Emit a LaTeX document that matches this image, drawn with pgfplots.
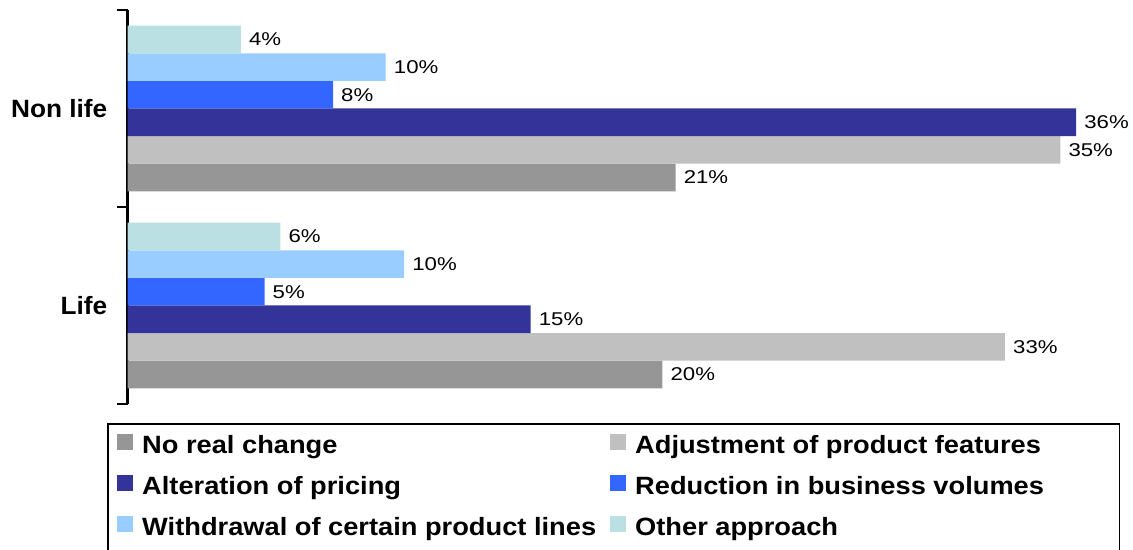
\documentclass[border=0pt]{standalone}
\usepackage{fontspec}
\setmainfont{Liberation Sans}
\newfontfamily\labfont[FakeStretch=1.2]{Liberation Sans}
\newfontfamily\legfont[FakeStretch=1.09]{Liberation Sans}
\newfontfamily\catfont[FakeStretch=1.05]{Liberation Sans}
\usepackage{pgfplots}
\pgfplotsset{compat=1.18}
\definecolor{cNone}{HTML}{969696}
\definecolor{cAdj}{HTML}{C0C0C0}
\definecolor{cAlt}{HTML}{333399}
\definecolor{cRed}{HTML}{3366FF}
\definecolor{cWd}{HTML}{99CCFF}
\definecolor{cOth}{HTML}{BBE0E3}
\begin{document}
\begin{tikzpicture}
\useasboundingbox (0,0) rectangle (1133bp,550bp);
\begin{axis}[
  at={(127.5bp,146bp)}, anchor=south west,
  scale only axis, width=1000bp, height=394bp,
  xmin=0, xmax=37.95, ymin=-0.5, ymax=1.5,
  xbar=0pt, bar width=27.6bp,
  axis x line=none, axis y line*=left,
  axis line style={line width=2.5bp, -},
  y axis line style={-},
  ytick={-0.5,0.5,1.5}, yticklabels={,,},
  tick align=outside, major tick length=10bp,
  ytick style={line width=2bp, black},
  extra y ticks={0,1}, extra y tick labels={Life,Non life},
  extra y tick style={major tick length=0pt,
    yticklabel style={font=\catfont\bfseries\fontsize{25bp}{25bp}\selectfont, inner sep=0pt, xshift=-20bp}},
  point meta=explicit symbolic,
  nodes near coords={\pgfplotspointmeta\%},
  nodes near coords style={font=\labfont\fontsize{18.5bp}{18.5bp}\selectfont, anchor=west, inner sep=0pt, xshift=8bp},
  clip=false,
  legend columns=2, legend cell align=left,
  legend style={name=leg, at={(-0.0195,-0.0508)}, anchor=north west, draw=none, fill=none,
    inner xsep=9bp, inner ysep=9bp, column sep=9bp, row sep=15bp,
    font=\legfont\bfseries\fontsize{25bp}{25bp}\selectfont,
    nodes={inner sep=0pt, text height=20bp, text depth=6bp},
    /tikz/every even column/.append style={column sep=13bp}},
  legend image code/.code={\fill[#1] (0bp,-4bp) rectangle (16bp,12bp);},
]
\addplot[fill=cNone, draw=none] coordinates {(20.3,0) [20] (20.8,1) [21]};
\addlegendentry{\makebox[455bp][l]{No real change}}
\addplot[fill=cAdj, draw=none] coordinates {(33.3,0) [33] (35.4,1) [35]};
\addlegendentry{\makebox[475bp][l]{Adjustment of product features}}
\addplot[fill=cAlt, draw=none] coordinates {(15.3,0) [15] (36.0,1) [36]};
\addlegendentry{\makebox[455bp][l]{Alteration of pricing}}
\addplot[fill=cRed, draw=none] coordinates {(5.2,0) [5] (7.8,1) [8]};
\addlegendentry{\makebox[475bp][l]{Reduction in business volumes}}
\addplot[fill=cWd, draw=none] coordinates {(10.5,0) [10] (9.8,1) [10]};
\addlegendentry{\makebox[455bp][l]{Withdrawal of certain product lines}}
\addplot[fill=cOth, draw=none] coordinates {(5.8,0) [6] (4.3,1) [4]};
\addlegendentry{\makebox[475bp][l]{Other approach}}
\end{axis}
\draw[line width=1.5bp] ([yshift=-30bp]leg.south west) -- (leg.north west) -- (leg.north east) -- ([yshift=-30bp]leg.south east);
\end{tikzpicture}
\end{document}
